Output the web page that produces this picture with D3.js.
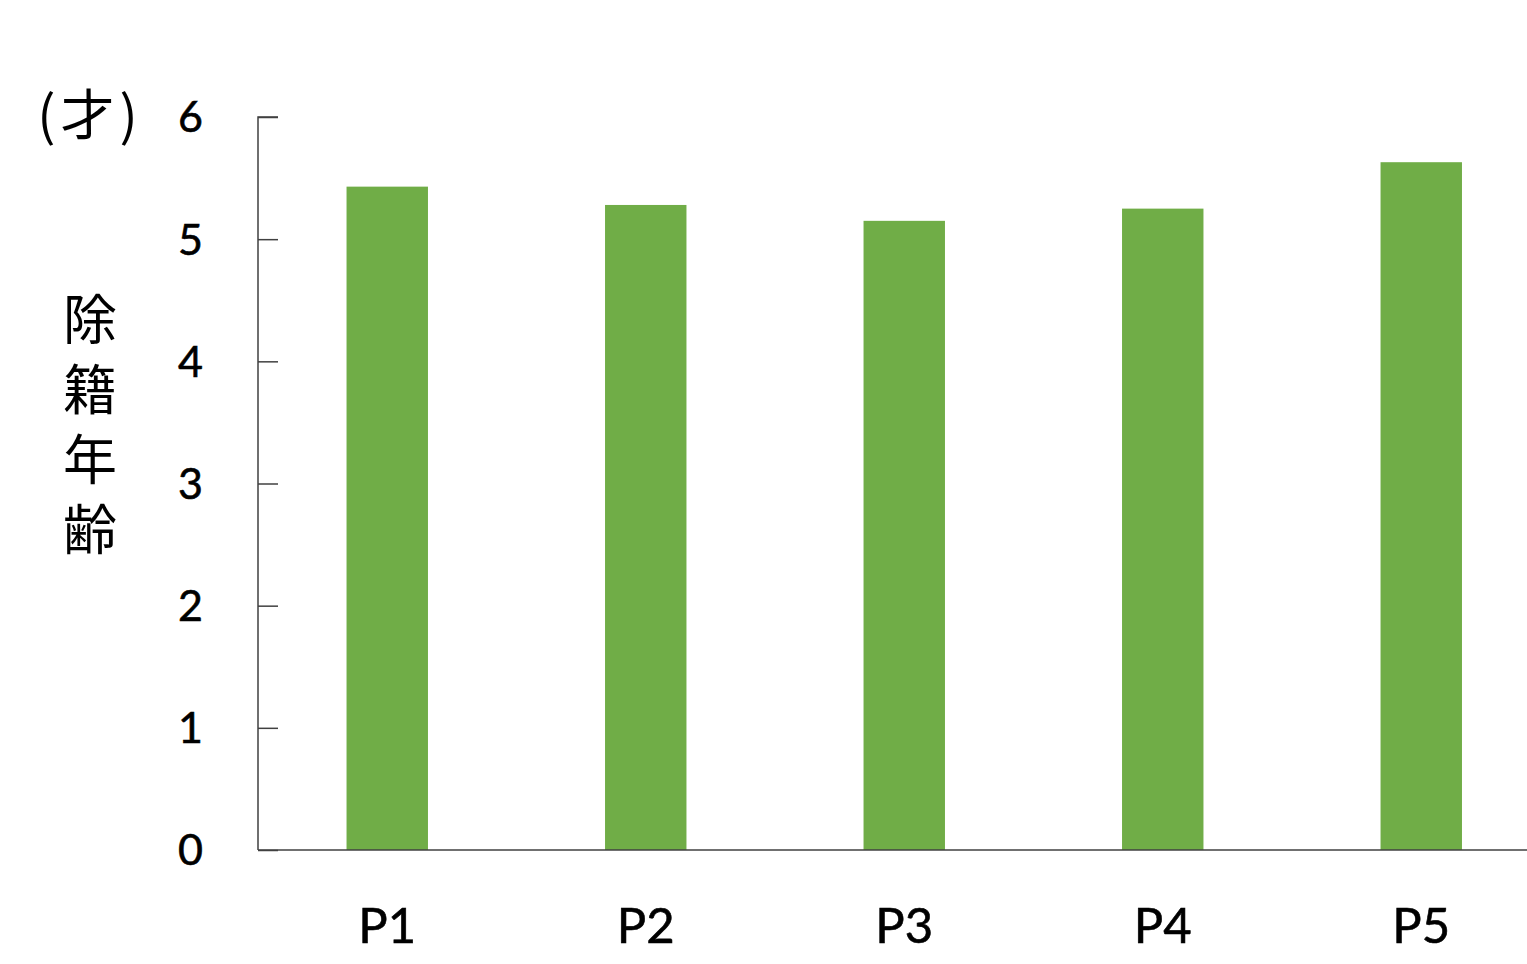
<!DOCTYPE html>
<html>
<head>
<meta charset="utf-8">
<script src="https://cdn.jsdelivr.net/npm/d3@7"></script>
<style>
  html, body { margin: 0; padding: 0; background: #ffffff; }
  svg { display: block; }
</style>
</head>
<body>
<svg id="chart" width="1527" height="964"></svg>
<script>
// Removal age by parity group
const categories = ["P1", "P2", "P3", "P4", "P5"];
const values = [5.43, 5.28, 5.15, 5.25, 5.63];
const yTicks = [0, 1, 2, 3, 4, 5, 6];
const yTitle = "除籍年齢";
const unitLabel = "(才)";

const svg = d3.select("#chart");
const plotLeft = 258, plotTop = 117, plotBottom = 850;
const step = 258.5;

const x = d3.scaleBand()
  .domain(categories)
  .range([plotLeft, plotLeft + step * categories.length])
  .paddingInner(0.685)
  .paddingOuter(0.3425);

const y = d3.scaleLinear().domain([0, 6]).range([plotBottom, plotTop]);

const latin = "Lato, 'Noto Sans', sans-serif";
const cjk = "'Noto Sans CJK JP', sans-serif";

// bars
svg.append("g").selectAll("rect")
  .data(values)
  .join("rect")
  .attr("x", (d, i) => x(categories[i]))
  .attr("y", d => y(d))
  .attr("width", x.bandwidth())
  .attr("height", d => y(0) - y(d))
  .attr("fill", "#70ad47");

// y axis with inward ticks
const yAxis = svg.append("g")
  .attr("transform", `translate(${plotLeft},0)`)
  .call(d3.axisRight(y).tickValues(yTicks).tickSize(20).tickFormat(""));
yAxis.select(".domain").attr("stroke", "#404040").attr("stroke-width", 1.5).attr("d", `M20,${plotTop}H0V${plotBottom}`);
yAxis.selectAll(".tick line").attr("stroke", "#404040").attr("stroke-width", 1.5);

svg.append("g").selectAll("text")
  .data(yTicks)
  .join("text")
  .attr("x", 203)
  .attr("y", d => y(d))
  .attr("dy", "0.36em")
  .attr("text-anchor", "end")
  .attr("font-family", latin)
  .attr("font-size", 43)
  .attr("fill", "#000")
  .attr("stroke", "#000")
  .attr("stroke-width", 0.6)
  .text(d => d);

// x baseline
svg.append("g")
  .attr("transform", `translate(0,${plotBottom})`)
  .call(d3.axisBottom(x).tickSize(0).tickFormat(""))
  .call(g => g.select(".domain").attr("stroke", "#404040").attr("stroke-width", 1.5).attr("d", `M${plotLeft},0H1527`));

svg.append("g").selectAll("text")
  .data(categories)
  .join("text")
  .attr("x", d => x(d) + x.bandwidth() / 2)
  .attr("y", 943)
  .attr("text-anchor", "middle")
  .attr("font-family", latin)
  .attr("font-size", 49)
  .attr("fill", "#000")
  .attr("stroke", "#000")
  .attr("stroke-width", 0.6)
  .text(d => d);

// unit label
svg.append("text")
  .attr("x", 90)
  .attr("y", 135)
  .attr("text-anchor", "middle")
  .attr("font-family", cjk)
  .attr("font-size", 54)
  .attr("letter-spacing", 5)
  .attr("fill", "#000")
  .text(unitLabel);

// vertical axis title, upright characters
svg.append("text")
  .attr("x", 90)
  .attr("y", 292)
  .attr("writing-mode", "vertical-rl")
  .attr("text-orientation", "upright")
  .attr("font-family", cjk)
  .attr("font-size", 54)
  .attr("letter-spacing", 16)
  .attr("fill", "#000")
  .text(yTitle);
</script>
</body>
</html>
